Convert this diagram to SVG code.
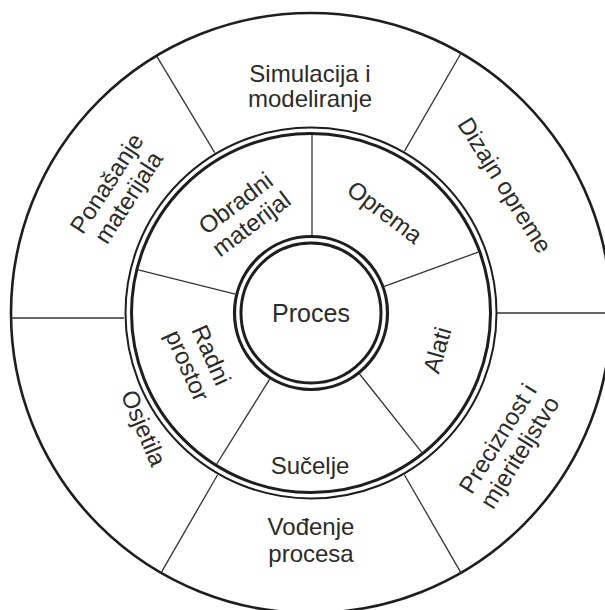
<svg xmlns="http://www.w3.org/2000/svg" width="605" height="610" viewBox="0 0 605 610">
<style>
.ring{fill:none;stroke:#1e1e1e}
.div{stroke:#333;stroke-width:1.3;fill:none}
.t{font-family:"Liberation Sans",Arial,sans-serif;font-size:24px;fill:#2b2b2b;text-anchor:middle}
</style>
<rect width="605" height="610" fill="#fff"/>
<g id="outer-ring"><circle class="ring" cx="311" cy="313" r="300" stroke-width="2.6"/></g>
<g id="middle-ring"><circle class="ring" cx="311" cy="313" r="185.5" stroke-width="2"/><circle class="ring" cx="311" cy="313" r="179.5" stroke-width="3"/></g>
<g id="connectors">
<line class="div" x1="312" y1="235" x2="312" y2="135"/>
<line class="div" x1="384.3" y1="286.3" x2="478.3" y2="252.1"/>
<line class="div" x1="359.6" y1="374" x2="421.8" y2="452.3"/>
<line class="div" x1="269.7" y1="379.1" x2="216.7" y2="464"/>
<line class="div" x1="235.3" y1="294.1" x2="138.3" y2="269.9"/>
<line class="div" x1="497" y1="313" x2="611" y2="313"/>
<line class="div" x1="404.5" y1="151.1" x2="461" y2="53.2"/>
<line class="div" x1="214.7" y1="152.7" x2="156.5" y2="55.8"/>
<line class="div" x1="11" y1="318" x2="124" y2="318"/>
<line class="div" x1="217.5" y1="475" x2="161" y2="572.8"/>
<line class="div" x1="404.5" y1="475" x2="461" y2="572.8"/>
</g>
<g id="proces"><circle class="ring" cx="311" cy="313" r="76.5" stroke-width="3.2"/><circle class="ring" cx="311" cy="313" r="70" stroke-width="3"/><text class="t" x="311" y="322" style="font-size:25px">Proces</text></g>
<g id="simulacija"><text class="t" x="310"><tspan x="310" y="82">Simulacija i</tspan><tspan x="310" y="107">modeliranje</tspan></text></g>
<g id="dizajn"><text class="t" transform="translate(505,185) rotate(58)" y="8.5">Dizajn opreme</text></g>
<g id="preciznost"><text class="t" transform="translate(508,445) rotate(-58)"><tspan x="0" y="-4">Preciznost i</tspan><tspan x="0" y="22">mjeriteljstvo</tspan></text></g>
<g id="vodjenje"><text class="t"><tspan x="311" y="535">Vođenje</tspan><tspan x="311" y="562">procesa</tspan></text></g>
<g id="osjetila"><text class="t" transform="translate(144,428) rotate(67)" y="8.5">Osjetila</text></g>
<g id="ponasanje"><text class="t" transform="translate(117,190) rotate(-57)"><tspan x="0" y="-4">Ponašanje</tspan><tspan x="0" y="22">materijala</tspan></text></g>
<g id="obradni"><text class="t" transform="translate(243,213) rotate(-37)"><tspan x="0" y="-4">Obradni</tspan><tspan x="0" y="22">materijal</tspan></text></g>
<g id="oprema"><text class="t" transform="translate(385,212) rotate(37)" y="8.5">Oprema</text></g>
<g id="alati"><text class="t" transform="translate(437,350) rotate(-74)" y="8.5">Alati</text></g>
<g id="sucelje"><text class="t" x="310" y="474">Sučelje</text></g>
<g id="radni"><text class="t" transform="translate(200,360) rotate(66)"><tspan x="0" y="-4">Radni</tspan><tspan x="0" y="22">prostor</tspan></text></g>
</svg>
